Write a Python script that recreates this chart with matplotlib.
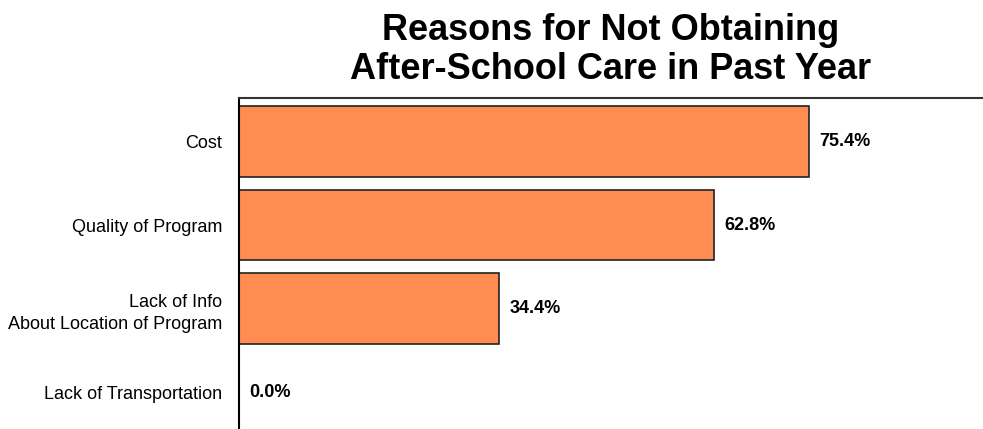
import matplotlib.pyplot as plt

plt.rcParams['font.family'] = ['Liberation Sans', 'DejaVu Sans']

categories = ["Cost", "Quality of Program", "Lack of Info\nAbout Location of Program", "Lack of Transportation"]
values = [75.4, 62.8, 34.4, 0.0]

fig = plt.figure(figsize=(9.83, 4.29), dpi=100)
ax = fig.add_axes([239 / 983, 0.0, 1 - 239 / 983, (429 - 98) / 429])

pos = list(range(len(categories)))
ax.barh(pos, values, height=0.85, color="#FF8C50", edgecolor="#222222", linewidth=1.2)
# 83.5 px per category band
ax.set_ylim(-0.521 + 331 / 83.5, -0.521)
ax.set_xlim(0, 98.4)

for p, v in zip(pos, values):
    ax.text(v + 1.4, p, f"{v:.1f}%", va="center", ha="left", fontsize=13, fontweight="bold")

ax.set_yticks(pos)
ax.set_yticklabels(categories, fontsize=13)
for lab in ax.get_yticklabels():
    lab.set_linespacing(1.45)
ax.tick_params(axis="y", length=0, pad=12)
ax.set_xticks([])

for s in ["bottom", "right"]:
    ax.spines[s].set_visible(False)
ax.spines["left"].set_linewidth(1.5)
ax.spines["top"].set_linewidth(1.5)
ax.spines["top"].set_color("#333333")

fig.text((239 + 983) / 2 / 983, 1 - 50 / 429, "Reasons for Not Obtaining\nAfter-School Care in Past Year",
         ha="center", va="center", fontsize=26, fontweight="bold", linespacing=1.18)

fig.savefig("out.png", dpi=100)
